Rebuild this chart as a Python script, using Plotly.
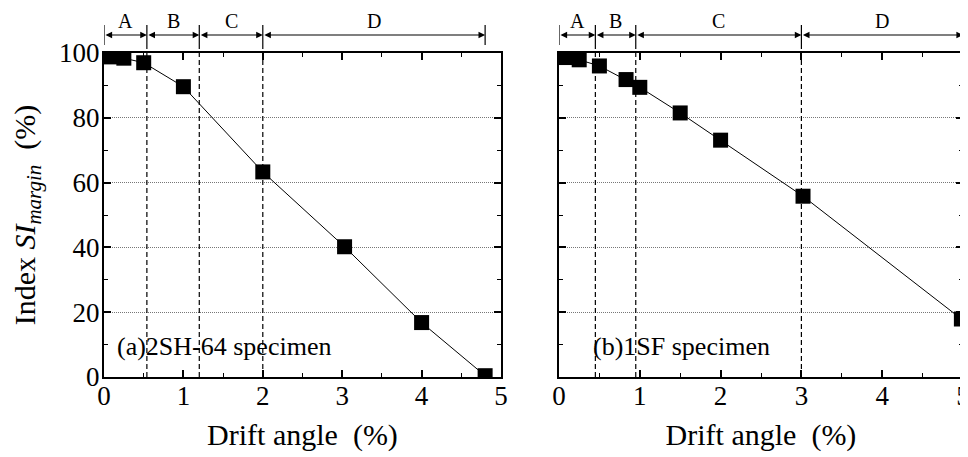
import plotly.graph_objects as go

# ---------------- data ----------------
left_drift = [0.08, 0.25, 0.5, 1.0, 2.0, 3.03, 4.0, 4.8]
left_index = [98.8, 98.4, 97.0, 89.6, 63.3, 40.2, 16.8, 0.4]

right_drift = [0.07, 0.25, 0.5, 0.83, 1.0, 1.5, 2.0, 3.02, 4.98]
right_index = [98.6, 97.9, 96.0, 91.8, 89.4, 81.5, 73.1, 55.8, 17.9]

stage_labels = ["A", "B", "C", "D"]
left_bounds = [0.0, 0.54, 1.2, 2.0, 4.8]
right_bounds = [0.0, 0.45, 0.95, 3.0, 5.0]

left_caption = "(a)2SH-64 specimen"
right_caption = "(b)1SF specimen"
x_title = "Drift angle  (%)"
y_title = "Index <i>SI</i><sub><i>margin</i></sub>  (%)"
x_ticks = [0, 1, 2, 3, 4, 5]
y_ticks = [0, 20, 40, 60, 80, 100]

# ---------------- layout geometry ----------------
# the page places the figure 8 px in from the window's top-left corner
OFF = 8
W, H = 968 - OFF, 457 - OFF
ML, MT = 104 - OFF, 53 - OFF
MR = W - (963 - OFF)
MB = H - (377 - OFF)
PW, PH = W - ML - MR, H - MT - MB
FONT = "Liberation Serif"

def px_x(px):
    return (px - OFF - ML) / PW

def px_y(px):
    return (H - MB - (px - OFF)) / PH

fig = go.Figure()

for xs, ys, xa, ya in [(left_drift, left_index, "x", "y"),
                       (right_drift, right_index, "x2", "y2")]:
    fig.add_trace(go.Scatter(
        x=xs, y=ys, xaxis=xa, yaxis=ya, mode="lines+markers",
        line=dict(color="black", width=1),
        marker=dict(symbol="square", size=15, color="black"),
        cliponaxis=True, showlegend=False))

axis_common = dict(
    showline=True, linecolor="black", linewidth=2, mirror="ticks",
    ticks="inside", ticklen=7, tickwidth=1.5, tickcolor="black",
    tickfont=dict(family=FONT, size=27, color="black"),
    zeroline=False, automargin=False, ticklabeloverflow="allow",
)

xcommon = dict(axis_common, range=[0, 5], tickvals=x_ticks, showgrid=False,
               ticklabelstandoff=-6,
               minor=dict(ticks="inside", ticklen=4, tickwidth=1.2, dtick=0.5,
                          tickcolor="black", showgrid=False),
               title=dict(text=x_title, font=dict(family=FONT, size=30, color="black"),
                          standoff=14))
ycommon = dict(axis_common, range=[0, 100], tickvals=y_ticks, showgrid=True,
               gridcolor="#777777", griddash="1px,1px", gridwidth=1,
               ticklabelstandoff=-3,
               minor=dict(ticks="inside", ticklen=4, tickwidth=1.2, dtick=10,
                          tickcolor="black", showgrid=False))

fig.update_layout(
    width=W, height=H,
    margin=dict(l=ML, r=MR, t=MT, b=MB, autoexpand=False),
    paper_bgcolor="white", plot_bgcolor="white",
    font=dict(family=FONT, color="black"),
    xaxis=dict(xcommon, domain=[px_x(104), px_x(501)], anchor="y"),
    yaxis=dict(ycommon, domain=[0, 1], anchor="x",
               title=dict(text=y_title, font=dict(family=FONT, size=30, color="black"),
                          standoff=20)),
    xaxis2=dict(xcommon, domain=[px_x(559), 1], anchor="y2"),
    yaxis2=dict(ycommon, domain=[0, 1], anchor="x2", showticklabels=False),
)

arrow_y = px_y(35)
label_y = px_y(21)
tick_top = px_y(25)
tick_bot = px_y(45)

for bounds, xa, ya, caption, cap_x in [(left_bounds, "x", "y", left_caption, 0.14),
                                       (right_bounds, "x2", "y2", right_caption, 0.4)]:
    # stage boundary markers
    for i, b in enumerate(bounds):
        fig.add_shape(type="line", xref=xa, yref="paper", x0=b, x1=b,
                      y0=tick_bot, y1=tick_top, line=dict(color="black", width=1.2))
        if 0 < i < len(bounds) - 1:
            fig.add_shape(type="line", xref=xa, yref="paper", x0=b, x1=b,
                          y0=0, y1=tick_bot,
                          line=dict(color="black", width=1.2, dash="5px,3px"))
    # double arrows and labels
    for i, lab in enumerate(stage_labels):
        a, b = bounds[i], bounds[i + 1]
        fig.add_annotation(x=b, y=arrow_y, ax=a, ay=0, xref=xa, axref=xa,
                           yref="paper", ayref="pixel", text="", showarrow=True,
                           arrowside="end+start", arrowhead=2, arrowsize=1.1,
                           arrowwidth=1.2, arrowcolor="black", standoff=0, startstandoff=0)
        fig.add_annotation(x=(a + b) / 2, y=label_y, xref=xa, yref="paper",
                           yanchor="middle", text=lab, showarrow=False,
                           font=dict(family=FONT, size=20, color="black"))
    fig.add_annotation(x=cap_x, y=9.5, xref=xa, yref=ya, yanchor="middle",
                       text=caption, showarrow=False, xanchor="left",
                       font=dict(family=FONT, size=26, color="black"))

fig.write_html("out.html")
